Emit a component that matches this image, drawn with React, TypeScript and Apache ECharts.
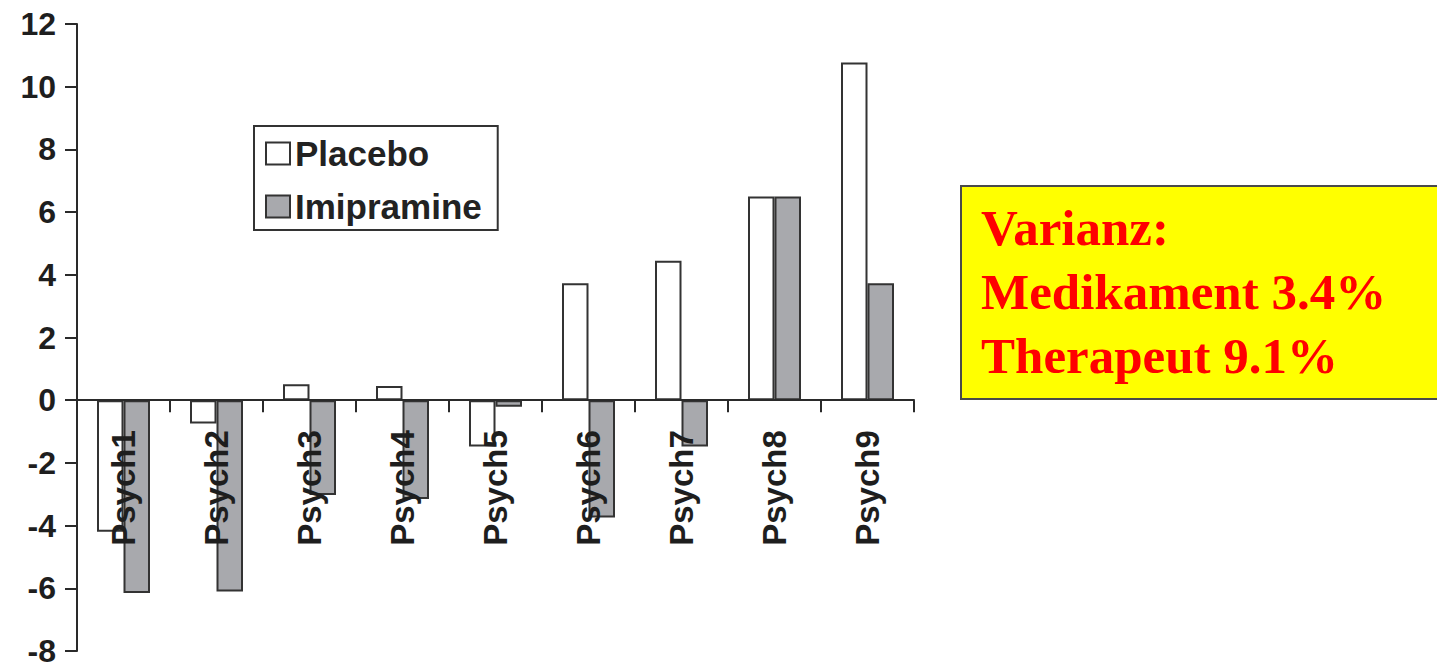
import React, { useEffect, useRef } from "react";
import * as echarts from "echarts";

const categories = ["Psych1", "Psych2", "Psych3", "Psych4", "Psych5", "Psych6", "Psych7", "Psych8", "Psych9"];
const placebo = [-4.2, -0.74, 0.51, 0.45, -1.48, 3.73, 4.45, 6.5, 10.77];
const imipramine = [-6.15, -6.1, -3.02, -3.15, -0.21, -3.74, -1.48, 6.5, 3.73];
const seriesNames = ["Placebo", "Imipramine"];
const noteLines = ["Varianz:", "Medikament 3.4%", "Therapeut 9.1%"];
const yMin = -8;
const yMax = 12;

export default function App() {
  const ref = useRef<HTMLDivElement>(null);
  useEffect(() => {
    document.body.style.margin = "0";
    const chart = echarts.init(ref.current!, null, { renderer: "svg" });
    const axisColor = "#2a2a2a";
    const sans = "'Liberation Sans', Arial, sans-serif";
    const gridTop = 24;
    const gridBottom = 13;
    const plotH = 664 - gridTop - gridBottom;
    const zeroOffset = -(plotH * (0 - yMin)) / (yMax - yMin);
    chart.setOption({
      animation: false,
      backgroundColor: "#ffffff",
      grid: { left: 77, right: 523, top: gridTop, bottom: gridBottom, containLabel: false, outerBoundsMode: "none" },
      legend: {
        orient: "vertical",
        left: 254,
        top: 126,
        icon: "rect",
        itemWidth: 24,
        itemHeight: 22,
        itemGap: 18,
        padding: [10, 16, 6, 11],
        backgroundColor: "#ffffff",
        borderColor: "#333333",
        borderWidth: 2,
        selectedMode: false,
        textStyle: { fontSize: 35, fontWeight: "bold", fontFamily: sans, color: "#222222" },
        data: seriesNames,
      },
      xAxis: {
        type: "category",
        data: categories,
        z: 10,
        offset: zeroOffset,
        axisLine: { onZero: false, lineStyle: { color: axisColor, width: 2 } },
        axisTick: { show: true, length: 12, alignWithLabel: false, lineStyle: { color: axisColor, width: 2 } },
        axisLabel: {
          rotate: 90,
          margin: 30,
          interval: 0,
          fontSize: 33,
          fontWeight: "bold",
          fontFamily: sans,
          color: "#1e1e1e",
        },
        splitLine: { show: false },
      },
      yAxis: {
        type: "value",
        min: yMin,
        max: yMax,
        interval: 2,
        axisLine: { show: true, lineStyle: { color: axisColor, width: 2 } },
        axisTick: { show: true, length: 12, lineStyle: { color: axisColor, width: 2 } },
        axisLabel: {
          margin: 21,
          fontSize: 32,
          lineHeight: 24,
          fontWeight: "bold",
          fontFamily: sans,
          color: "#1e1e1e",
        },
        splitLine: { show: false },
      },
      series: [
        {
          name: seriesNames[0],
          type: "bar",
          data: placebo,
          barWidth: 26.5,
          barGap: "0%",
          itemStyle: { color: "#ffffff", borderColor: "#333333", borderWidth: 2 },
        },
        {
          name: seriesNames[1],
          type: "bar",
          data: imipramine,
          barWidth: 26.5,
          barGap: "0%",
          itemStyle: { color: "#a8a9ad", borderColor: "#333333", borderWidth: 2 },
        },
      ],
      graphic: [
        {
          type: "rect",
          shape: { x: 961, y: 186, width: 490, height: 213 },
          style: { fill: "#ffff00", stroke: "#4a4a4a", lineWidth: 2 },
        },
        ...noteLines.map((t, i) => ({
          type: "text",
          x: 981,
          y: 228 + i * 64,
          style: {
            text: t,
            fill: "#ff0000",
            fontSize: 51,
            fontWeight: "bold",
            fontFamily: "'Liberation Serif', 'Times New Roman', serif",
            verticalAlign: "middle",
            align: "left",
          },
        })),
      ],
    });
    return () => chart.dispose();
  }, []);
  return <div ref={ref} style={{ position: "absolute", left: 0, top: 0, width: 1437, height: 664 }} />;
}
